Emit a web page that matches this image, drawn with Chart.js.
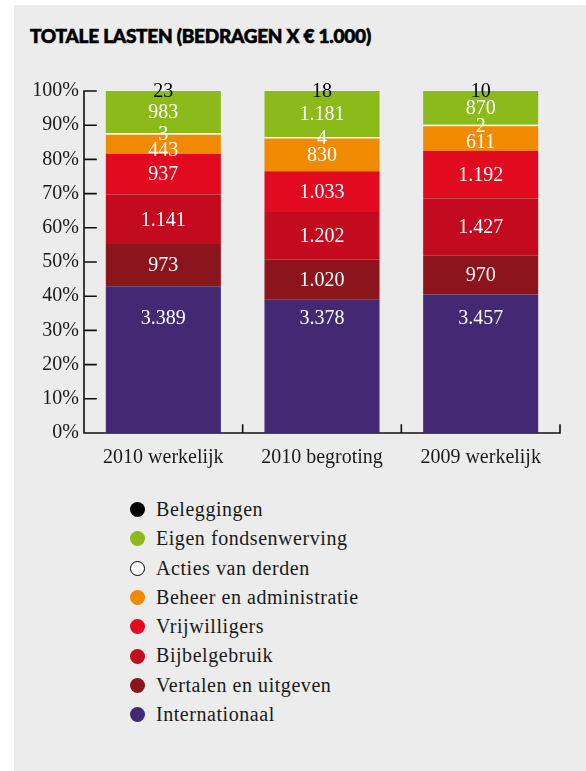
<!DOCTYPE html>
<html>
<head>
<meta charset="utf-8">
<script src="https://cdn.jsdelivr.net/npm/chart.js@4"></script>
<style>
    body { margin: 0; background: #fff; width: 586px; height: 771px; overflow: hidden; position: relative; }
    #panel { position: absolute; left: 14px; top: 5px; width: 572px; height: 766px; background: #ebeceb; }
    #title { position: absolute; left: 30px; top: 24px; font-family: Lato, sans-serif; font-weight: 900; font-size: 19px;
        letter-spacing: -0.25px; -webkit-text-stroke: 0.6px #000; color: #000; white-space: nowrap; }
    #wrap { position: absolute; left: 0; top: 0; width: 586px; height: 480px; }
    #legend { position: absolute; left: 0; top: 495px; margin: 0; padding: 0; list-style: none; }
    .item { position: relative; height: 29.3px; line-height: 29.3px; padding-left: 156px; color: #1a1a1a;
        letter-spacing: 0.55px; white-space: nowrap; }
    .dot { position: absolute; left: 129.5px; top: 7.15px; width: 15px; height: 15px; border-radius: 50%; box-sizing: border-box; }
</style>
</head>
<body>
<div id="panel"></div>
<div id="title">TOTALE LASTEN (BEDRAGEN X € 1.000)</div>
<div id="wrap"><canvas id="chart" width="586" height="480"></canvas></div>
<div id="legend"></div>
<script>
// data (bedragen x € 1.000)
const categories = ['2010 werkelijk', '2010 begroting', '2009 werkelijk'];
const seriesNames = ['Internationaal', 'Vertalen en uitgeven', 'Bijbelgebruik', 'Vrijwilligers',
    'Beheer en administratie', 'Acties van derden', 'Eigen fondsenwerving', 'Beleggingen'];
const internationaal = [3389, 3378, 3457];
const vertalen = [973, 1020, 970];
const bijbelgebruik = [1141, 1202, 1427];
const vrijwilligers = [937, 1033, 1192];
const beheer = [443, 830, 611];
const acties = [3, 4, 2];
const eigenFondsenwerving = [983, 1181, 870];
const beleggingen = [23, 18, 10];
const seriesColors = ['#432873', '#8c141c', '#c30a1e', '#e10a1e', '#f08a00', '#ffffff', '#8bba1a', '#000000'];
const labelColors = ['#fff', '#fff', '#fff', '#fff', '#fff', '#fff', '#fff', '#000'];
const yTicks = [0, 10, 20, 30, 40, 50, 60, 70, 80, 90, 100];

const allSeries = [internationaal, vertalen, bijbelgebruik, vrijwilligers, beheer, acties, eigenFondsenwerving, beleggingen];
const totals = categories.map((c, i) => allSeries.reduce((s, arr) => s + arr[i], 0));

const FONT = '"Liberation Serif", "Times New Roman", serif';

function formatNL(v) {
    return String(v).replace(/\B(?=(\d{3})+(?!\d))/g, '.');
}

const datasets = allSeries.map((arr, k) => ({
    label: seriesNames[k],
    data: arr.map((v, i) => v / totals[i] * 100),
    raw: arr,
    backgroundColor: seriesColors[k],
    borderWidth: 0,
    minBarLength: (k >= 5 && k !== 6) ? 1.5 : 0,
    barPercentage: 0.725,
    categoryPercentage: 1,
}));

// axis lines with inward ticks
const axesPlugin = {
    id: 'axes',
    beforeDatasetsDraw(chart) {
        const { ctx, chartArea } = chart;
        const x = chart.scales.x, y = chart.scales.y;
        const top = y.getPixelForValue(100), bottom = y.getPixelForValue(0);
        ctx.save();
        ctx.strokeStyle = '#111';
        ctx.lineWidth = 1.6;
        ctx.lineCap = 'square';
        ctx.beginPath();
        ctx.moveTo(chartArea.left, top);
        ctx.lineTo(chartArea.left, bottom);
        ctx.lineTo(chartArea.right, bottom);
        for (const v of yTicks) {
            const py = y.getPixelForValue(v);
            ctx.moveTo(chartArea.left, py);
            ctx.lineTo(chartArea.left + 12, py);
        }
        for (let i = 0; i < categories.length; i++) {
            const bx = i < categories.length - 1
                ? (x.getPixelForValue(i) + x.getPixelForValue(i + 1)) / 2
                : chartArea.right;
            ctx.moveTo(bx, bottom);
            ctx.lineTo(bx, bottom - 8);
        }
        ctx.stroke();
        ctx.restore();
    }
};

// value labels centred in the segments, pushed down when they collide;
// the bottom series sits at a fixed height on the axis
const labelAnchor = { 0: 33.5 };
const valueLabels = {
    id: 'valueLabels',
    afterDatasetsDraw(chart) {
        const { ctx } = chart;
        const y = chart.scales.y;
        ctx.save();
        ctx.font = '20px ' + FONT;
        ctx.textAlign = 'center';
        ctx.textBaseline = 'middle';
        for (let i = 0; i < categories.length; i++) {
            let prevY = -Infinity;
            for (let k = chart.data.datasets.length - 1; k >= 0; k--) {
                const el = chart.getDatasetMeta(k).data[i];
                let ly = (k in labelAnchor) ? y.getPixelForValue(labelAnchor[k]) : (el.y + el.base) / 2 + 1;
                if (ly < prevY + 16) ly = prevY + 16;
                prevY = ly;
                ctx.fillStyle = labelColors[k];
                ctx.fillText(formatNL(chart.data.datasets[k].raw[i]), el.x, ly);
            }
        }
        ctx.restore();
    }
};

const chart = new Chart(document.getElementById('chart'), {
    type: 'bar',
    data: { labels: categories, datasets: datasets },
    plugins: [axesPlugin, valueLabels],
    options: {
        responsive: false,
        animation: false,
        layout: { padding: { top: 91, right: 26, left: 0, bottom: 0 } },
        plugins: {
            legend: { display: false },
            tooltip: { enabled: false },
        },
        scales: {
            x: {
                stacked: true,
                grid: { display: false, drawTicks: false },
                border: { display: false },
                ticks: { color: '#1a1a1a', font: { family: FONT, size: 20 }, padding: 13, maxRotation: 0 },
                afterFit(scale) { scale.height = 47; },
            },
            y: {
                stacked: true,
                min: 0,
                max: 100,
                grid: { display: false, drawTicks: false },
                border: { display: false },
                afterBuildTicks(scale) { scale.ticks = yTicks.map(v => ({ value: v })); },
                ticks: {
                    color: '#1a1a1a',
                    font: { family: FONT, size: 20 },
                    padding: 5,
                    callback: (v) => v + '%',
                },
                afterFit(scale) { scale.width = 84; },
            },
        },
    },
});

// legend, top of the stack first
const legend = document.getElementById('legend');
for (let k = chart.data.datasets.length - 1; k >= 0; k--) {
    const ds = chart.data.datasets[k];
    const row = document.createElement('div');
    row.className = 'item';
    row.style.fontFamily = FONT;
    row.style.fontSize = '20px';
    const dot = document.createElement('div');
    dot.className = 'dot';
    dot.style.background = ds.backgroundColor;
    if (ds.backgroundColor === '#ffffff') dot.style.border = '1.6px solid #000';
    row.appendChild(dot);
    row.appendChild(document.createTextNode(ds.label));
    legend.appendChild(row);
}
</script>
</body>
</html>
